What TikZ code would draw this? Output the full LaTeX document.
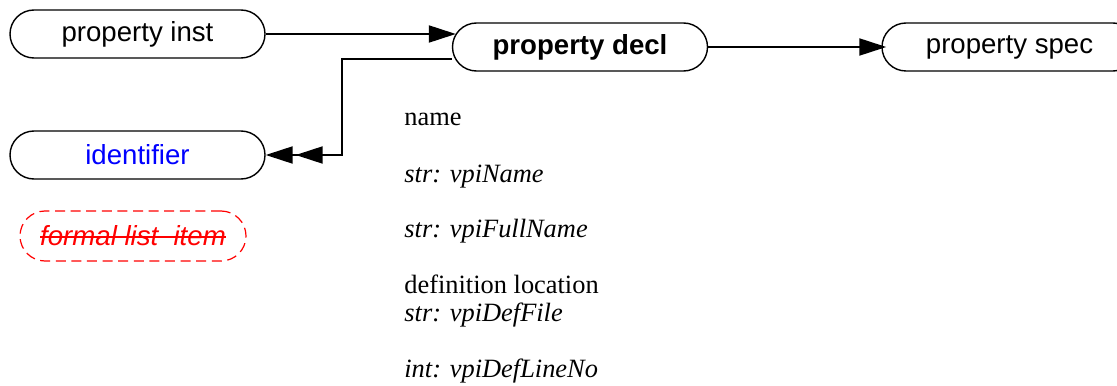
\documentclass[tikz,border=0pt]{standalone}
\usepackage{fontspec}
\setmainfont{Liberation Serif}
\setsansfont{Liberation Sans}
\usetikzlibrary{arrows.meta,positioning}
\newcommand{\crossout}[1]{\setbox0\hbox{#1}\rlap{\raisebox{0.52ex}{\rule{\wd0}{0.9pt}}}\box0}

\begin{document}
\begin{tikzpicture}[x=0.5pt, y=-0.5pt,
      blk/.style={draw, line width=0.7pt, rounded corners=12pt, align=center,
                  minimum height=24pt, minimum width=127.5pt,
                  font=\fontsize{13.8}{16}\selectfont\sffamily},
      gone/.style={blk, draw=red, text=red, line width=0.6pt, dash pattern=on 5pt off 2.8pt,
                   rounded corners=12.5pt, minimum height=25pt, minimum width=113pt,
                   font=\fontsize{13.8}{16}\selectfont\sffamily\itshape},
      txt/.style={anchor=base west, inner sep=0pt, font=\fontsize{13.2}{15}\selectfont},
      arr/.style={-{Triangle[length=13.5pt,width=8.5pt]}, line width=1pt},
      darr/.style={-{Triangle[length=13.5pt,width=8.5pt,sep=1.5pt]Triangle[length=13.5pt,width=8.5pt]}, line width=1pt}]
    \useasboundingbox (0,0) rectangle (1117,385);
    \node[blk] (inst) at (137.5,34) {property inst};
    \node[blk, font=\fontsize{13.8}{16}\selectfont\sffamily\bfseries] (decl) at (580,47) {property decl};
    \node[blk] (spec) at (1009.5,47) {property spec};
    \node[blk, text=blue] (ident) at (137.5,155) {identifier};
    \node[gone] (formal) at (133,236) {\crossout{formal list~ item}};
    % attributes of property decl
    \node[txt] (name) at (404,126) {name};
    \node[txt] (vpiname) at (404,182) {\itshape str: vpiName};
    \node[txt] (fullname) at (404,237) {\itshape str: vpiFullName};
    \node[txt] (defloc) at (404,293) {definition location};
    \node[txt] (deffile) at (404,321) {\itshape str: vpiDefFile};
    \node[txt] (lineno) at (404,377) {\itshape int: vpiDefLineNo};
    \coordinate (bend) at (342,155);
    \draw[arr] (inst.east) -- ([xshift=2pt]inst.east -| decl.west);
    \draw[arr, shorten >=-2.5pt] (decl) -- (spec);
    \draw[darr] ([yshift=-6pt]decl.west) -| (bend) -- (ident);
  \end{tikzpicture}
\end{document}
